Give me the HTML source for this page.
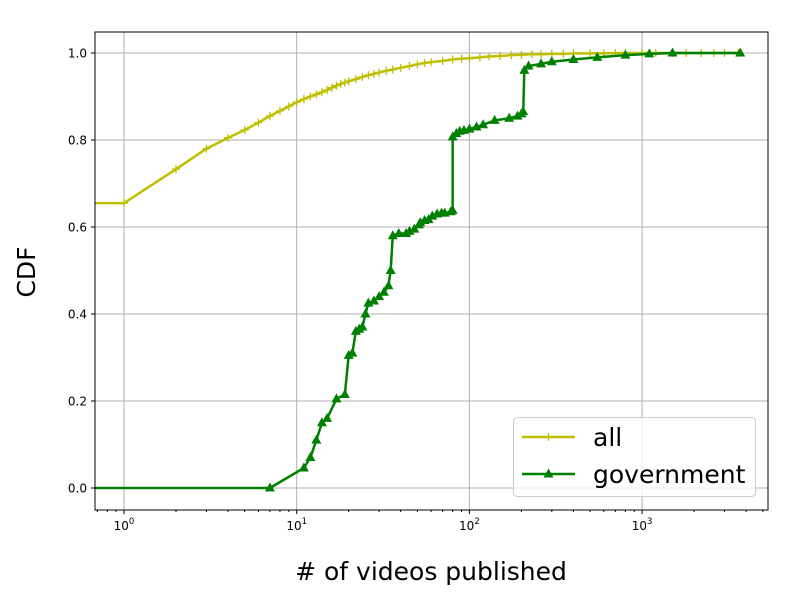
<!DOCTYPE html>
<html><head><meta charset="utf-8"><style>
body{margin:0;background:#fff}
svg{font-family:"DejaVu Sans","Liberation Sans",sans-serif}
</style></head><body>
<svg id="chart" width="800" height="600"></svg>
<script>
const allX=[1,2,3,4,5,6,7,8,9,10,11,12,13,14,15,16,17,18,19,20,22,24,26,28,30,33,36,40,45,50,55,60,70,80,90,100,115,130,150,175,200,230,260,300,350,400,500,600,700,800,1000,1200,1500,1800,2200,2600,3000,3600];
const allY=[0.655,0.733,0.78,0.805,0.823,0.84,0.855,0.867,0.877,0.887,0.894,0.9,0.905,0.91,0.915,0.92,0.925,0.929,0.932,0.935,0.94,0.945,0.949,0.952,0.955,0.959,0.962,0.966,0.97,0.974,0.977,0.979,0.982,0.985,0.987,0.988,0.99,0.992,0.993,0.995,0.996,0.997,0.997,0.998,0.998,0.999,0.999,0.999,1.0,1.0,1.0,1.0,1.0,1.0,1.0,1.0,1.0,1.0];
const govX=[7,11,12,13,14,15,17,19,20,21,22,23,24,25,26,28,30,32,34,35,36,39,43,45,48,51,52,55,58,61,65,69,72,78,80,80,84,88,93,100,110,120,140,170,190,200,205,208,220,260,300,400,550,800,1100,1500,3700];
const govY=[0,0.046,0.07,0.11,0.15,0.16,0.205,0.215,0.305,0.31,0.36,0.365,0.37,0.4,0.425,0.43,0.44,0.45,0.465,0.5,0.58,0.585,0.585,0.59,0.595,0.605,0.61,0.615,0.617,0.625,0.63,0.632,0.632,0.635,0.638,0.807,0.815,0.82,0.822,0.825,0.83,0.835,0.845,0.85,0.855,0.86,0.865,0.96,0.97,0.975,0.98,0.985,0.99,0.995,0.998,1.0,1.0];
const yTicks=[0,0.2,0.4,0.6,0.8,1.0];
const xTickExp=[0,1,2,3];

const svg=document.getElementById('chart');
const NS='http://www.w3.org/2000/svg';
const L=95,R=768,T=32,B=510;
const xs=v=>124+Math.log10(v)*172.7;
const ys=v=>488-v*435;
function mk(tag,attrs,parent){const e=document.createElementNS(NS,tag);for(const k in attrs)e.setAttribute(k,attrs[k]);(parent||svg).appendChild(e);return e;}

const grid=mk('g',{});


xTickExp.forEach(e=>{const x=xs(Math.pow(10,e));
 mk('line',{x1:x,x2:x,y1:T,y2:B,stroke:'#b0b0b0','stroke-width':1},grid);
 mk('line',{x1:x,x2:x,y1:B,y2:B+4,stroke:'#000'});
 const t=mk('text',{x:x,y:B+20,'font-size':12,'text-anchor':'middle'});
 
 
 t.textContent='10';
 const s=mk('tspan',{dy:-6,'font-size':8.5},t);s.textContent=e;
});
for(let e=-1;e<4;e++)for(let m=2;m<10;m++){const v=m*Math.pow(10,e);const x=xs(v);if(x<L||x>R)continue;mk('line',{x1:x,x2:x,y1:B,y2:B+2,stroke:'#000'});}
yTicks.forEach(v=>{const y=ys(v);
 mk('line',{x1:L,x2:R,y1:y,y2:y,stroke:'#b0b0b0','stroke-width':1},grid);
 mk('line',{x1:L-4,x2:L,y1:y,y2:y,stroke:'#000'});
 const t=mk('text',{x:L-8,y:y+4.5,'font-size':12,'text-anchor':'end'});
 
 
 t.textContent=v.toFixed(1);
});

const clip=mk('clipPath',{id:'c'});mk('rect',{x:L,y:T,width:R-L,height:B-T},clip);
function series(X,Y,color,marker,name){
 const g=mk('g',{'clip-path':'url(#c)'});
 
 
 let d='M'+L+','+ys(Y[0]);
 X.forEach((x,i)=>{d+=' L'+xs(x)+','+ys(Y[i]);});
 mk('path',{d:d,fill:'none',stroke:color,'stroke-width':2.5,'stroke-linejoin':'round'},g);
 X.forEach((x,i)=>{const px=xs(x),py=ys(Y[i]);
  if(marker==='+'){mk('path',{d:`M${px-4},${py}H${px+4}M${px},${py-4}V${py+4}`,stroke:color,'stroke-width':1.3},g);}
  else{mk('path',{d:`M${px},${py-5.5}L${px+5},${py+3.5}L${px-5},${py+3.5}Z`,fill:color},g);}
 });
}
series(allX,allY,'#bfbf00','+','series-all');
series(govX,govY,'#008000','^','series-government');

mk('rect',{x:L,y:T,width:R-L,height:B-T,fill:'none',stroke:'#000','stroke-width':1});

const xl=mk('text',{x:431,y:580,'font-size':25,'text-anchor':'middle'});


xl.textContent='# of videos published';
const yl=mk('text',{x:35,y:272,'font-size':25,'text-anchor':'middle',transform:'rotate(-90 35 272)'});


yl.textContent='CDF';

const lg=mk('g',{});


mk('rect',{x:513.5,y:417.5,width:242,height:79,rx:4,fill:'#fff','fill-opacity':0.8,stroke:'#ccc'},lg);
mk('line',{x1:522,x2:575,y1:437,y2:437,stroke:'#bfbf00','stroke-width':2.5},lg);
mk('path',{d:'M544.5,437H552.5M548.5,433V441',stroke:'#bfbf00','stroke-width':1.3},lg);
mk('line',{x1:522,x2:575,y1:474,y2:474,stroke:'#008000','stroke-width':2.5},lg);
mk('path',{d:'M548.5,468.5L553.5,477.5L543.5,477.5Z',fill:'#008000'},lg);
const t1=mk('text',{x:593,y:446,'font-size':25},lg);


t1.textContent='all';
const t2=mk('text',{x:593,y:483,'font-size':25},lg);


t2.textContent='government';
</script>
</body></html>
